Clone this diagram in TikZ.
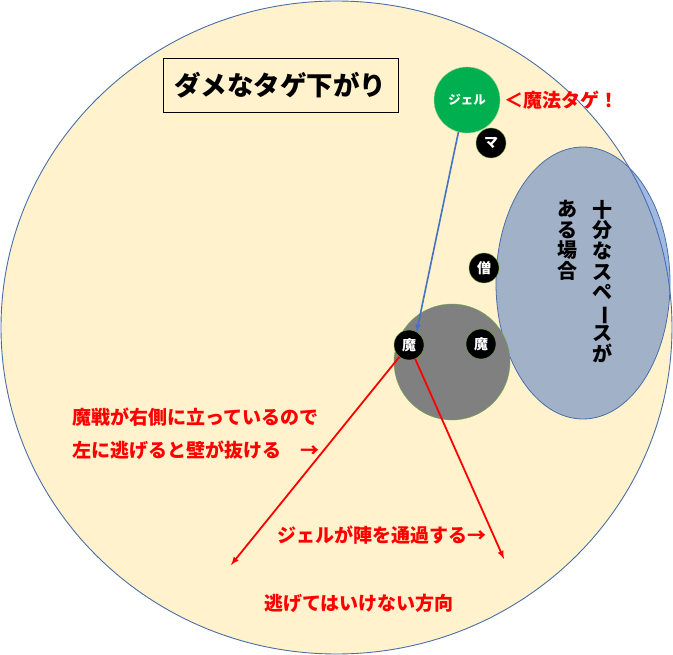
\documentclass[tikz,border=0pt]{standalone}
\usepackage{fontspec}
\newfontfamily\jp{Noto Sans CJK JP}
\usetikzlibrary{arrows}
\definecolor{cream}{HTML}{FFF2CC}
\definecolor{rimblue}{HTML}{4A6FA5}
\definecolor{spaceblue}{HTML}{4472C4}
\definecolor{jelgreen}{HTML}{00B050}
\definecolor{rimgreen}{HTML}{70AD47}

\begin{document}
\begin{tikzpicture}[x=1pt,y=-1pt,
  redtxt/.style={text=red,inner sep=0pt,font=\jp\bfseries\fontsize{19}{19}\selectfont},
  player/.style={circle,fill=black,draw=rimgreen,minimum size=30pt,inner sep=0pt,
    text=white,font=\jp\bfseries\fontsize{14}{14}\selectfont},
  tate/.style={anchor=north,align=center,inner sep=0pt,font=\jp\bfseries\fontsize{20}{20.6}\selectfont}]
\useasboundingbox (0,0) rectangle (673,655);
% the room
\draw[fill=cream,draw=rimblue,line width=0.9pt] (336.5,327.5) ellipse [x radius=335.5,y radius=326.5];
% free space on the right
\draw[fill=spaceblue,fill opacity=0.5,draw=rimblue,line width=0.8pt] (583,283) ellipse [x radius=87,y radius=136];
\node[tate] (spacea) at (602,200) {十\\分\\な\\ス\\ペ\\\rotatebox[origin=c]{-90}{ー}\\ス\\が};
\node[tate] (spaceb) at (567,200) {あ\\る\\場\\合};
% the party
\node[circle,fill=black!50,draw=rimgreen,minimum size=116pt,inner sep=0pt] (pack) at (452,362) {};
\node[circle,fill=jelgreen,draw=rimgreen!60!white,minimum size=66pt,inner sep=0pt,text=white,
  font=\jp\bfseries\fontsize{12.5}{12.5}\selectfont] (jel) at (467,100) {ジェル};
\node[player] (ma) at (491,143) {マ};
\node[player] (so) at (484,268) {僧};
\node[player] (magea) at (409,345) {魔};
\node[player] (mageb) at (481,344) {魔};
% title
\node[draw=black,line width=0.9pt,minimum width=235pt,minimum height=54pt,inner sep=0pt,
  font=\jp\bfseries\fontsize{26.5}{26.5}\selectfont] (title) at (280.5,85) {ダメなタゲ下がり};
% labels
\node[redtxt,anchor=west] (tag) at (504,100) {＜魔法タゲ！};
\node[redtxt,anchor=west] (notea) at (72,417) {魔戦が右側に立っているので};
\node[redtxt,anchor=west] (noteb) at (72,450) {左に逃げると壁が抜ける　→};
\node[redtxt,anchor=west] (notec) at (277,535) {ジェルが陣を通過する→};
\node[redtxt] (noted) at (359,603) {逃げてはいけない方向};
% where the mage runs
\coordinate (runl) at (231,565);
\coordinate (runr) at (504,559);
\draw[-latex,draw=spaceblue,line width=1.6pt] (jel.255) -- (magea.60);
\draw[-latex,red,line width=1.8pt] (magea) -- (runl);
\draw[-latex,red,line width=1.8pt] (magea) -- (runr);
\end{tikzpicture}
\end{document}
